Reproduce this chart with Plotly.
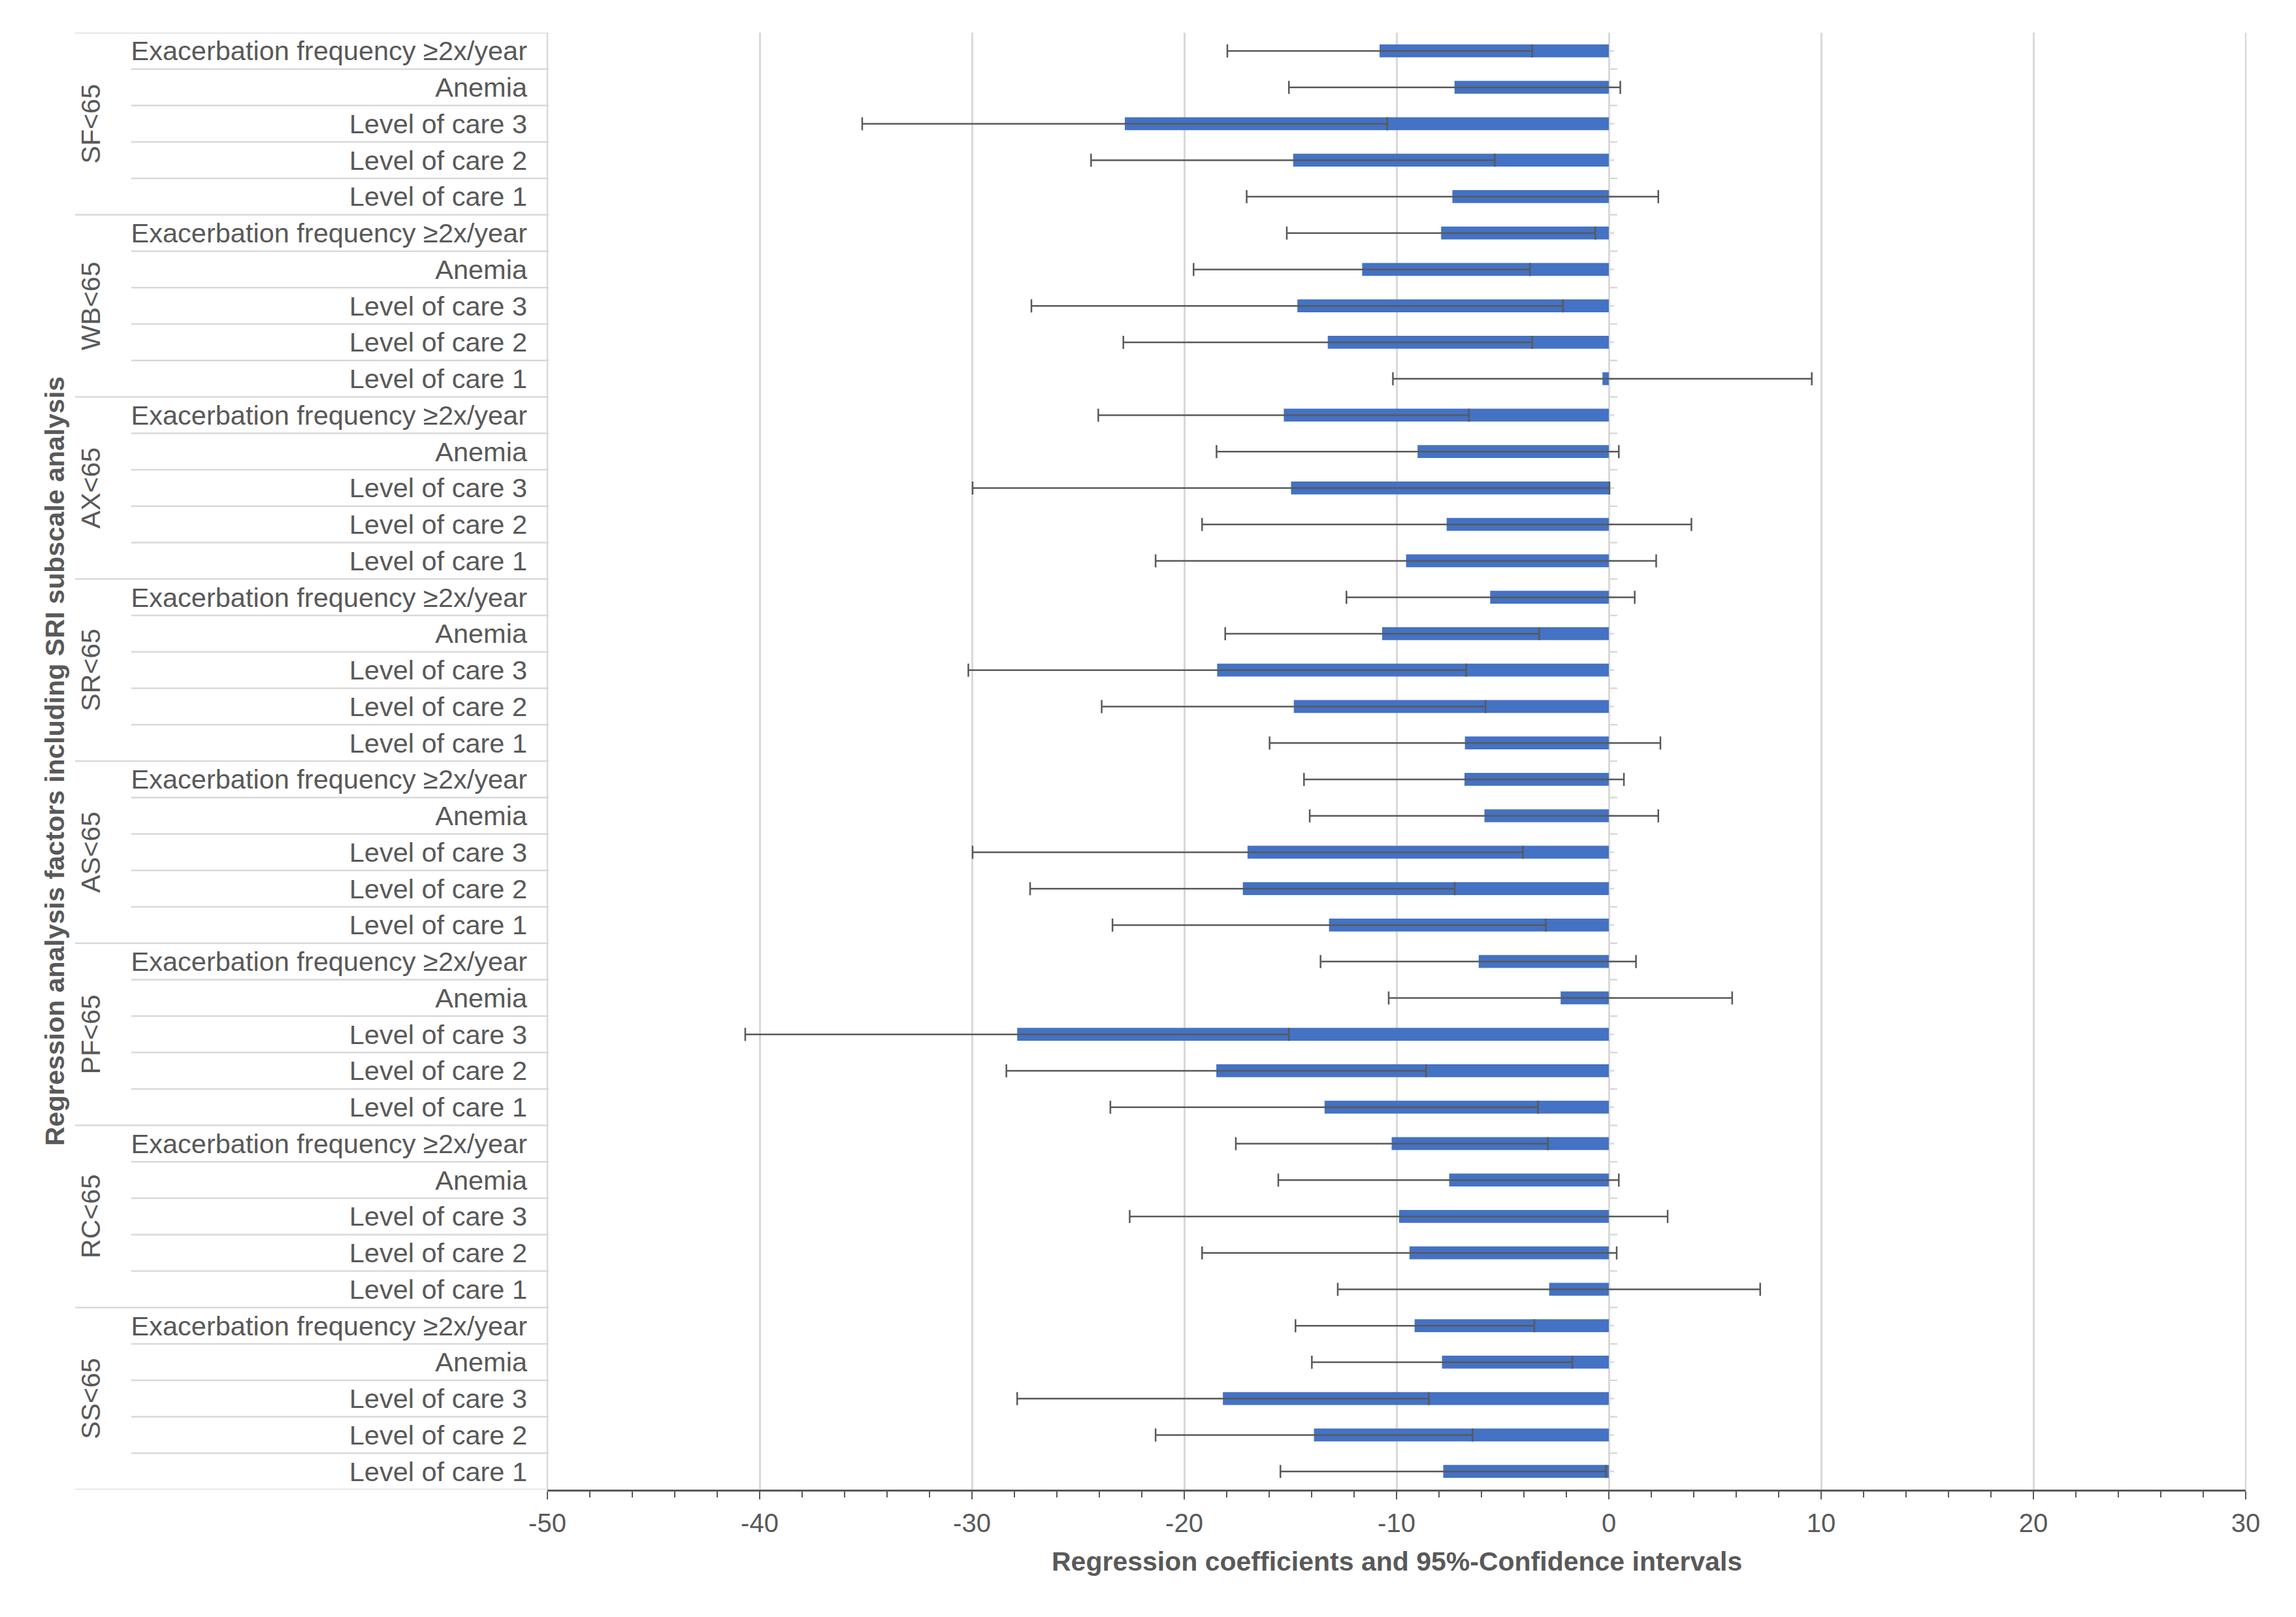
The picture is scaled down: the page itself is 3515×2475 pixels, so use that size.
import plotly.graph_objects as go

groups = ["SF<65", "WB<65", "AX<65", "SR<65", "AS<65", "PF<65", "RC<65", "SS<65"]
factors = ["Exacerbation frequency ≥2x/year", "Anemia", "Level of care 3", "Level of care 2", "Level of care 1"]

# regression coefficients (per group, factors in order above)
coef_SF = [-10.8, -7.27, -22.8, -14.87, -7.37]
coef_WB = [-7.9, -11.62, -14.67, -13.24, -0.30]
coef_AX = [-15.31, -9.01, -14.97, -7.64, -9.55]
coef_SR = [-5.59, -10.68, -18.45, -14.84, -6.78]
coef_AS = [-6.8, -5.86, -17.02, -17.24, -13.18]
coef_PF = [-6.13, -2.27, -27.87, -18.49, -13.39]
coef_RC = [-10.23, -7.52, -9.88, -9.39, -2.81]
coef_SS = [-9.15, -7.86, -18.18, -13.89, -7.8]

# 95% CI lower bounds
low_SF = [-17.97, -15.07, -35.17, -24.39, -17.06]
low_WB = [-15.17, -19.56, -27.20, -22.87, -10.17]
low_AX = [-24.05, -18.48, -29.97, -19.16, -21.35]
low_SR = [-12.36, -18.07, -30.17, -23.89, -15.98]
low_AS = [-14.36, -14.09, -29.97, -27.26, -23.38]
low_PF = [-13.58, -10.37, -40.68, -28.38, -23.48]
low_RC = [-17.57, -15.57, -22.57, -19.16, -12.77]
low_SS = [-14.76, -13.99, -27.87, -21.35, -15.47]

# 95% CI upper bounds
high_SF = [-3.61, 0.54, -10.44, -5.37, 2.33]
high_WB = [-0.64, -3.72, -2.16, -3.61, 9.56]
high_AX = [-6.59, 0.47, 0.03, 3.89, 2.23]
high_SR = [1.22, -3.28, -6.72, -5.81, 2.43]
high_AS = [0.71, 2.33, -4.05, -7.26, -2.97]
high_PF = [1.28, 5.81, -15.07, -8.61, -3.34]
high_RC = [-2.87, 0.47, 2.77, 0.37, 7.13]
high_SS = [-3.51, -1.72, -8.48, -6.42, -0.14]

x_tick_vals = [-50, -40, -30, -20, -10, 0, 10, 20, 30]
x_tick_text = ["-50", "-40", "-30", "-20", "-10", "0", "10", "20", "30"]

x_title = "Regression coefficients and 95%-Confidence intervals"
y_title = "Regression analysis factors including SRI subscale analysis"

coefs = [coef_SF, coef_WB, coef_AX, coef_SR, coef_AS, coef_PF, coef_RC, coef_SS]
lows = [low_SF, low_WB, low_AX, low_SR, low_AS, low_PF, low_RC, low_SS]
highs = [high_SF, high_WB, high_AX, high_SR, high_AS, high_PF, high_RC, high_SS]

x_vals, err_plus, err_minus, ypos, ytext = [], [], [], [], []
row = 0
for g in range(len(groups)):
    for f in range(len(factors)):
        v = coefs[g][f]
        x_vals.append(v)
        err_plus.append(highs[g][f] - v)
        err_minus.append(v - lows[g][f])
        ypos.append(row)
        ytext.append(factors[f])
        row += 1
n_rows = row

TXT = "#595959"
GRID = "#d9d9d9"
FONT = "Liberation Sans, Arial, Helvetica, sans-serif"

fig = go.Figure()
fig.add_trace(go.Bar(
    x=x_vals, y=ypos, orientation="h",
    marker=dict(color="#4472C4", line=dict(width=0)),
    error_x=dict(type="data", symmetric=False, array=err_plus, arrayminus=err_minus,
                 color="#595959", thickness=2.5, width=10),
    showlegend=False,
))

L, R, T, B = 838, 77, 50, 195
W, H = 3515, 2475
plot_w = W - L - R
plot_h = H - T - B

def px_to_paper_x(px):
    return (px - L) / plot_w

shapes = []
for b in range(n_rows + 1):
    x0 = px_to_paper_x(115) if b % len(factors) == 0 else px_to_paper_x(201)
    shapes.append(dict(type="line", xref="paper", yref="y", x0=x0, x1=0.0008,
                       y0=b - 0.5, y1=b - 0.5, line=dict(color=GRID, width=2.5), layer="below"))
    if 0 < b < n_rows:
        shapes.append(dict(type="line", xref="x", yref="y", x0=0.05, x1=0.4,
                           y0=b - 0.5, y1=b - 0.5, line=dict(color=GRID, width=2.5)))
for r in range(n_rows):
    shapes.append(dict(type="line", xref="x", yref="y", x0=0.05, x1=0.25,
                       y0=r, y1=r, line=dict(color=GRID, width=2.5), layer="below"))
# label-column right border and right edge gridline
for xp in (0, 1):
    shapes.append(dict(type="line", xref="paper", yref="paper", x0=xp, x1=xp, y0=0, y1=1,
                       line=dict(color=GRID, width=2.5), layer="below"))

annotations = []
for g, name in enumerate(groups):
    annotations.append(dict(text=name, xref="paper", yref="y", x=px_to_paper_x(139),
                            y=g * len(factors) + (len(factors) - 1) / 2, textangle=-90,
                            showarrow=False, xanchor="center", yanchor="middle",
                            font=dict(family=FONT, size=41, color=TXT)))
annotations.append(dict(text="<b>" + y_title + "</b>", xref="paper", yref="paper",
                        x=px_to_paper_x(84), y=0.5, textangle=-90, showarrow=False,
                        xanchor="center", yanchor="middle",
                        font=dict(family=FONT, size=41, color=TXT)))
annotations.append(dict(text="<b>" + x_title + "</b>", xref="paper", yref="paper",
                        x=0.5, y=(H - B - 2390) / plot_h, showarrow=False,
                        xanchor="center", yanchor="middle",
                        font=dict(family=FONT, size=41, color=TXT)))

fig.update_layout(
    width=W, height=H,
    margin=dict(l=L, r=R, t=T, b=B, pad=0),
    paper_bgcolor="white", plot_bgcolor="white",
    bargap=0.647,
    font=dict(family=FONT, size=41, color=TXT),
    shapes=shapes, annotations=annotations,
    xaxis=dict(range=[-50, 30], tickvals=x_tick_vals, ticktext=x_tick_text,
               showgrid=True, gridcolor=GRID, gridwidth=2.5,
               zeroline=True, zerolinecolor=GRID, zerolinewidth=2.5,
               showline=True, linecolor="#595959", linewidth=3,
               ticks="outside", ticklen=12, tickwidth=2, tickcolor="#595959",
               minor=dict(dtick=2, ticks="outside", ticklen=9, tickwidth=2,
                          tickcolor="#595959", showgrid=False),
               tickfont=dict(family=FONT, size=40, color=TXT),
               ticklabelstandoff=2),
    yaxis=dict(range=[n_rows - 0.5, -0.5], tickvals=ypos, ticktext=ytext,
               showgrid=False, zeroline=False, showline=False, ticks="",
               tickfont=dict(family=FONT, size=41.5, color=TXT),
               ticklabelstandoff=30),
)

fig.write_html("out.html")
